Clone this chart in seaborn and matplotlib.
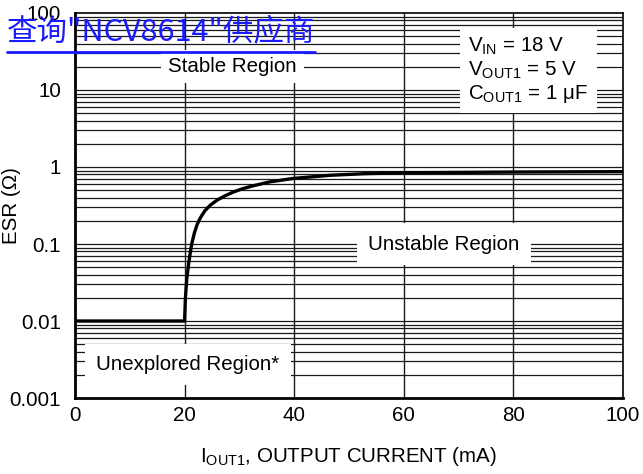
import numpy as np
import pandas as pd
import matplotlib
matplotlib.use("Agg")
import matplotlib.pyplot as plt
import seaborn as sns

# ESR stability curve
current_ma = [0, 20, 20.15, 20.4, 20.8, 21.3, 21.8, 22.3, 22.9, 23.7, 24.7,
              25.9, 27.3, 28.8, 30.5, 32.5, 35.5, 39.8, 46.5, 53, 59.9, 70, 80, 100]
esr_ohm = [0.01, 0.01, 0.02, 0.035, 0.06, 0.1, 0.14, 0.18, 0.22, 0.27, 0.32,
           0.37, 0.42, 0.47, 0.52, 0.57, 0.64, 0.71, 0.78, 0.82, 0.84, 0.85, 0.86, 0.87]

x_ticks = [0, 20, 40, 60, 80, 100]
y_ticks = [0.001, 0.01, 0.1, 1, 10, 100]
y_ticklabels = ["0.001", "0.01", "0.1", "1", "10", "100"]

df = pd.DataFrame({"I": current_ma, "ESR": esr_ohm})

sns.set_style("ticks", {"axes.edgecolor": "black", "text.color": "black",
                        "xtick.color": "black", "ytick.color": "black",
                        "axes.labelcolor": "black"})
plt.rcParams["font.family"] = ["Liberation Sans", "DejaVu Sans"]
plt.rcParams["mathtext.fontset"] = "custom"
plt.rcParams["mathtext.rm"] = "Liberation Sans"

fig = plt.figure(figsize=(6.43, 4.74), dpi=100)
ax = fig.add_axes([0.1166, 0.1603, 0.8523, 0.8123])

ax.set_yscale("log")
ax.set_xlim(0, 100)
ax.set_ylim(0.001, 100)

# grid: vertical majors, horizontal majors + minors
for xv in x_ticks[1:-1]:
    ax.axvline(xv, color="0.1", lw=1.0, zorder=1)
for dec in [0.001, 0.01, 0.1, 1, 10]:
    for m in range(1, 10):
        v = dec * m
        if 0.001 < v < 100:
            ax.axhline(v, color="0.1", lw=0.9, zorder=1)

sns.lineplot(data=df, x="I", y="ESR", ax=ax, color="black", lw=2.4,
             estimator=None, sort=False, zorder=5)

fs = 14.8
ax.text(28.7, 20, "Stable Region", fontsize=fs, ha="center", va="center",
        bbox=dict(facecolor="white", edgecolor="none", pad=5), zorder=3)
ax.text(67.3, 0.1, "Unstable Region", fontsize=fs, ha="center", va="center",
        bbox=dict(facecolor="white", edgecolor="none", pad=8), zorder=3)
ax.text(20.6, 0.0027, "Unexplored Region*", fontsize=fs, ha="center", va="center",
        bbox=dict(facecolor="white", edgecolor="none", pad=8), zorder=3)
ax.text(71.8, 18, "$\\mathregular{V_{IN}}$ = 18 V\n$\\mathregular{V_{OUT1}}$ = 5 V\n$\\mathregular{C_{OUT1}}$ = 1 \u03bcF",
        fontsize=fs, ha="left", va="center", linespacing=1.15,
        bbox=dict(facecolor="white", edgecolor="none", pad=6), zorder=3)

ax.set_xticks(x_ticks)
ax.set_xticklabels([str(v) for v in x_ticks])
ax.set_yticks(y_ticks)
ax.set_yticklabels(y_ticklabels)
ax.yaxis.set_minor_locator(matplotlib.ticker.NullLocator())
ax.tick_params(axis="x", labelsize=fs, length=0, pad=6)
ax.tick_params(axis="y", labelsize=fs, length=0, pad=10)

ax.set_xlabel("$\\mathregular{I_{OUT1}}$, OUTPUT CURRENT (mA)", fontsize=fs, labelpad=14)
ax.set_ylabel("ESR (\u03a9)", fontsize=fs)
ax.yaxis.set_label_coords(-0.099, 0.5)

for side in ["left", "bottom"]:
    ax.spines[side].set_linewidth(2.0)
for side in ["top", "right"]:
    ax.spines[side].set_visible(True)
    ax.spines[side].set_linewidth(1.2)
for s in ax.spines.values():
    s.set_zorder(6)

# watermark link text in the top left corner
fig.text(0.011, 0.933, "查询\"NCV8614\"供应商", color="#1a1aff", fontsize=22,
         family=["Noto Sans CJK SC", "DejaVu Sans"], ha="left", va="center", zorder=10)
fig.add_artist(plt.Line2D([0.011, 0.49], [0.89, 0.89], color="#1a1aff", lw=2.0,
                          transform=fig.transFigure, zorder=10))

fig.savefig("out.png", dpi=100)
